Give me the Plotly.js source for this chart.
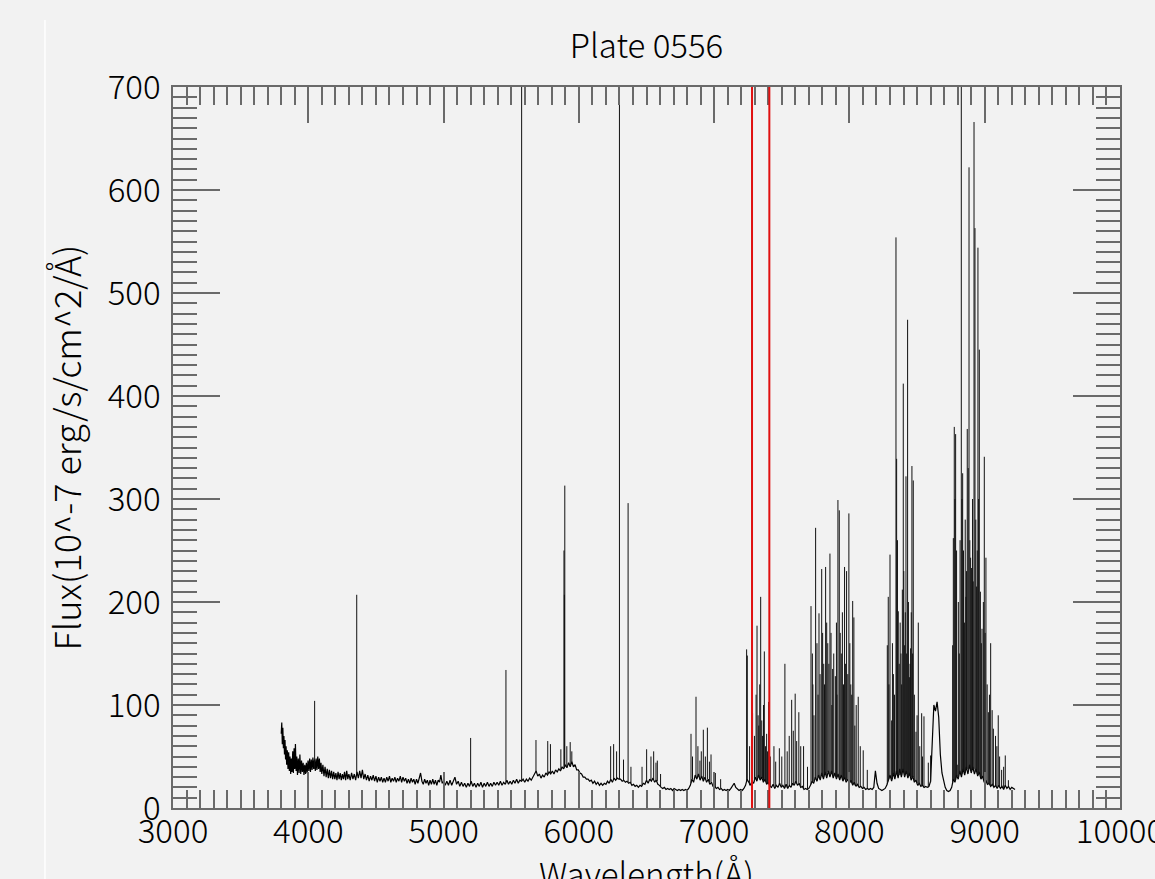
<!DOCTYPE html>
<html>
<head>
<meta charset="utf-8">
<script src="https://cdn.plot.ly/plotly-3.0.1.min.js"></script>
<style>html,body{margin:0;padding:0;background:#f2f2f2;}#chart{width:1155px;height:879px;}</style>
</head>
<body>
<div id="chart"></div>
<script>
// ---- Continuum of the spectrum (wavelength Å, flux 10^-7 erg/s/cm^2/Å) ----
const contWaveA = [3800,3804,3808,3812,3816,3820,3824,3828,3832,3836,
3840,3845,3850,3855,3860,3865,3870,3875,3880,3885,
3890,3895,3900,3905,3910,3915,3920,3926,3932,3938,
3944,3950,3956,3962,3968,3974,3980,3986,3992,3998,
4004,4010,4016,4022,4028,4034,4040,4046,4052,4058,
4064,4070,4076,4082,4088,4094,4100,4108,4116,4124,
4132,4140,4148,4156,4164,4172,4180,4188,4196,4204,
4212,4220,4228,4236,4244,4252,4260,4268,4276,4284,
4292,4300];
const contFluxA = [72,83,62,78,58,70,52,66,47,60,
42,56,38,54,36,50,33,48,35,55,
34,58,38,62,36,50,32,48,34,52,
33,46,35,44,32,42,33,44,34,46,
36,48,35,47,37,49,38,47,36,48,
37,50,38,48,35,44,33,42,31,40,
30,38,29,37,29,36,28,35,28,34,
27,35,28,34,27,33,28,35,27,36,
28,33];

const contWaveB = [4310,4320,4330,4340,4350,4360,4370,4380,4390,4400,
4410,4420,4430,4440,4450,4460,4470,4480,4490,4500,
4510,4520,4530,4540,4550,4560,4570,4580,4590,4600,
4610,4620,4630,4640,4650,4660,4670,4680,4690,4700,
4710,4720,4730,4740,4750,4760,4770,4780,4790,4800,
4810,4820,4830,4840,4850,4860,4870,4880,4890,4900,
4910,4920,4930,4940,4950,4960,4970,4980,4990,5000];
const contFluxB = [27,34,28,33,27,35,29,36,29,37,
28,33,27,32,26,31,27,32,26,31,
25,30,26,30,25,29,25,30,26,31,
25,29,26,30,25,29,26,31,25,30,
26,29,24,28,24,29,25,28,23,28,
24,29,34,26,23,28,24,27,22,27,
23,28,23,27,22,27,25,32,24,26];

const contWaveC = [5012,5024,5036,5048,5060,5072,5084,5096,5108,5120,
5132,5144,5156,5168,5180,5192,5204,5216,5228,5240,
5252,5264,5276,5288,5300,5312,5324,5336,5348,5360,
5372,5384,5396,5408,5420,5432,5444,5456,5468,5480,
5492,5504,5516,5528,5540,5552,5564,5576,5588,5600,
5612,5624,5636,5648,5660,5672,5684,5696,5708,5720,
5732,5744,5756,5768,5780,5792,5804,5816,5828,5840,
5852,5864,5876,5888,5900,5912,5924,5936,5948,5960,
5972,5984,5996];
const contFluxC = [22,26,22,27,22,26,30,23,26,21,
25,21,24,20,24,21,26,21,24,20,
24,21,25,20,24,21,25,21,24,21,
25,22,25,22,26,22,25,23,27,23,
26,23,27,24,28,24,27,26,28,25,
28,26,29,27,30,33,36,31,33,29,
32,30,34,32,35,33,36,33,37,35,
38,36,40,38,42,39,44,40,45,40,
42,37,37];

const contWaveD = [6008,6020,6032,6044,6056,6068,6080,6092,6104,6116,
6128,6140,6152,6164,6176,6188,6200,6212,6224,6236,
6248,6260,6272,6284,6296,6308,6320,6332,6344,6356,
6368,6380,6392,6404,6416,6428,6440,6452,6464,6476,
6488,6500,6512,6524,6536,6548,6560,6572,6584,6596,
6608,6620,6632,6644,6656,6668,6680,6692,6704,6716,
6728,6740,6752,6764,6776,6788,6800,6812,6824,6836,
6848,6860,6872,6884,6896,6908,6920,6932,6944,6956,
6968,6980,6992];
const contFluxD = [34,33,30,30,28,28,26,27,24,26,
23,25,22,24,22,24,23,26,24,28,
25,29,27,29,28,28,26,27,25,26,
24,25,22,23,21,22,20,22,21,24,
23,27,24,28,26,29,25,27,23,22,
20,19,20,18,19,18,19,17,19,18,
17,18,17,18,17,18,17,19,22,28,
25,32,28,33,27,31,26,30,25,28,
23,25,21];

const contWaveE = [7004,7016,7028,7040,7052,7064,7076,7088,7100,7112,
7124,7136,7148,7160,7172,7184,7196,7208,7220,7232,
7244,7256,7268,7280,7292,7304,7316,7328,7340,7352,
7364,7376,7388,7400,7412,7424,7436,7448,7460,7472,
7484,7496,7508,7520,7532,7544,7556,7568,7580,7592,
7604,7616,7628,7640,7652,7664,7676,7688,7700,7712,
7724,7736,7748,7760,7772,7784,7796,7808,7820,7832,
7844,7856,7868,7880,7892,7904,7916,7928,7940,7952,
7964,7976,7988,8000,8012,8024,8036,8048,8060,8072,
8084,8096,8108,8120,8132,8144,8156,8168,8180,8192,
8204];
const contFluxE = [21,19,20,18,19,17,18,17,18,17,
19,22,24,20,18,17,18,17,19,22,
28,24,22,26,24,30,26,32,27,30,
25,28,23,25,21,20,23,19,22,20,
24,20,22,19,23,19,22,20,24,22,
26,22,24,20,21,18,19,18,19,22,
26,24,30,26,32,27,34,28,35,29,
36,30,36,29,34,28,33,27,32,26,
30,25,28,24,27,22,25,21,23,20,
21,19,20,18,19,18,19,18,20,36,
24];

const contWaveF = [8216,8228,8240,8252,8264,8276,8288,8300,8312,8324,
8336,8348,8360,8372,8384,8396,8408,8420,8432,8444,
8456,8468,8480,8492,8504,8516,8528,8540,8552,8564,
8576,8588,8600,8612,8624,8636,8648,8660,8672,8684,
8696,8708,8720,8732,8744,8756,8768,8780,8792,8804,
8816,8828,8840,8852,8864,8876,8888,8900,8912,8924,
8936,8948,8960,8972,8984,8996,9008,9020,9032,9044,
9056,9068,9080,9092,9104,9116,9128,9140,9152,9164,
9176,9188,9200,9212,9224];
const contFluxF = [19,18,17,18,19,22,28,32,26,34,
28,36,29,38,30,38,30,36,29,34,
27,31,25,27,22,24,21,22,20,21,
20,21,26,60,100,94,103,88,52,34,
25,20,17,16,17,20,28,25,32,28,
36,30,38,32,40,33,42,34,40,33,
38,31,35,28,31,25,27,23,24,21,
23,20,22,19,22,19,21,18,22,19,
21,18,20,19,18];

// ---- Strong emission lines: wavelength, flux at the line's foot, peak flux ----
const lineWave = [4047,4358,5200,5461,5577,5683,5770,5790,5867,5890,
5893,5896,5911,5936,5948,6235,6257,6279,6300,6330,
6364,6385,6467,6501,6533,6553,6570,6580,6604,6829,
6866,6895,6920,6950,6977,7009,7048,7240,7245,7284,
7317,7330,7344,7357,7371,7388,7403,7442,7482,7523,
7573,7599,7626,7661,7716,7726,7750,7775,7795,7810,
7824,7840,7856,7876,7896,7915,7925,7940,7964,7979,
7996,8010,8024,8033,8050,8065,8102,8132,8280,8287,
8300,8312,8325,8344,8349,8361,8381,8391,8398,8408,
8418,8430,8443,8452,8462,8472,8492,8509,8534,8551,
8583,8600,8763,8768,8775,8785,8797,8812,8827,8837,
8850,8861,8871,8884,8896,8903,8921,8928,8940,8950,
8960,8980,8997,9009,9027,9044,9064,9100,9125,9152,
9175];
const lineBase = [38,33,24,25,26,34,33,34,37,39,
40,40,40,41,44,26,28,28,28,26,
25,24,22,26,27,28,26,26,21,24,
30,28,28,28,25,20,19,26,26,26,
27,30,28,29,27,24,24,21,23,20,
22,24,24,19,23,25,28,30,32,30,
33,35,32,31,31,31,29,31,29,27,
25,25,23,24,22,21,19,19,23,26,
31,27,32,32,34,32,32,36,37,31,
34,32,33,30,29,30,26,22,22,20,
20,25,24,27,27,27,31,34,32,36,
35,37,38,38,36,35,38,36,36,32,
34,29,27,26,23,21,21,21,20,21,
21];
const linePeak = [104,207,68,134,1000,66,65,62,57,250,
207,313,60,64,55,60,62,55,688,47,
296,40,40,57,50,55,44,46,33,72,
108,46,76,78,52,34,28,154,148,92,
177,80,205,70,152,72,103,60,58,140,
105,111,93,60,196,150,272,189,232,140,
234,160,247,135,128,299,289,150,234,230,
286,120,201,185,100,108,56,37,158,205,
246,85,130,554,339,191,150,212,412,158,
322,474,127,155,332,318,74,180,92,89,
44,51,158,262,370,363,42,150,1000,325,
180,205,368,622,243,233,666,563,215,544,
445,174,341,243,93,160,77,90,37,51,
27];

// ---- Weaker blended lines in the dense OH-band clusters ----
const blendWave = [6840,6880,6905,6935,6965,7262,7298,7310,7325,7337,
7352,7365,7380,7395,7415,7455,7500,7540,7555,7585,
7610,7640,7690,7730,7738,7760,7768,7783,7802,7816,
7832,7848,7864,7870,7884,7904,7908,7932,7948,7956,
7972,7988,8003,8017,8040,8080,8292,8318,8333,8355,
8368,8375,8386,8402,8413,8423,8436,8448,8457,8467,
8480,8500,8520,8540,8780,8792,8805,8818,8832,8843,
8856,8866,8878,8890,8910,8915,8934,8945,8955,8968,
8975,8990,9003,9018,9035,9055,9080,9090,9110,9140];
const blendBase = [28,30,30,28,25,22,26,28,30,28,
30,26,26,24,21,21,21,20,22,23,
24,20,18,25,26,26,30,28,30,33,
30,33,34,33,31,29,30,30,27,28,
26,27,25,24,22,21,28,28,30,33,
32,35,32,35,33,34,30,32,30,29,
26,24,23,22,26,30,29,34,33,36,
34,38,35,40,38,37,36,33,33,30,
29,28,26,24,23,22,21,20,20,19];
const blendPeak = [50,60,55,50,45,60,70,110,90,120,
85,100,60,55,50,45,50,55,70,75,
65,60,40,120,90,160,110,130,170,120,
180,140,170,100,150,180,110,170,190,120,
140,130,160,110,80,60,120,160,110,260,
140,180,120,230,190,150,200,140,190,150,
110,90,60,50,300,250,200,260,300,250,
280,230,330,260,300,220,280,250,300,210,
160,200,170,120,110,95,70,60,50,40];

// Red marker lines
const markWave = [7280, 7408];

// Axis ticks and titles
const xTickVals = [3000,4000,5000,6000,7000,8000,9000,10000];
const xTickText = ['3000','4000','5000','6000','7000','8000','9000','10000'];
const yTickVals = [0,100,200,300,400,500,600,700];
const yTickText = ['0','100','200','300','400','500','600','700'];
const chartTitle = 'Plate 0556';
const xTitle = 'Wavelength(Å)';
const yTitle = 'Flux(10^-7 erg/s/cm^2/Å)';

const contWave = [].concat(contWaveA, contWaveB, contWaveC, contWaveD, contWaveE, contWaveF);
const contFlux = [].concat(contFluxA, contFluxB, contFluxC, contFluxD, contFluxE, contFluxF);

const spikeX = [], spikeY = [];
function addSpikes(ws, bs, ps) {
  ws.forEach((w, i) => { spikeX.push(w, w, null); spikeY.push(bs[i], ps[i], null); });
}
addSpikes(blendWave, blendBase, blendPeak);
addSpikes(lineWave, lineBase, linePeak);

const FONT = '"Noto Sans CJK KR", "Noto Sans", sans-serif';
const AX = '#6a6a6a';
const tf = {family: FONT, size: 33, color: '#000', weight: 300};
const ytf = {family: FONT, size: 36, color: '#000', weight: 300};

const traces = [
  {x: contWave, y: contFlux, type: 'scatter', mode: 'lines', line: {color: '#000', width: 1.2}, hoverinfo: 'x+y', showlegend: false},
  {x: spikeX, y: spikeY, type: 'scatter', mode: 'lines', line: {color: '#111', width: 1}, hoverinfo: 'x+y', showlegend: false, connectgaps: false}
];

const shapes = markWave.map(w => ({type: 'line', xref: 'x', yref: 'paper', x0: w, x1: w, y0: 0, y1: 1, line: {color: '#e01010', width: 2}, layer: 'above'}));
shapes.push({type: 'line', xref: 'paper', yref: 'paper', x0: -0.1352, x1: -0.1352, y0: 1.093, y1: -0.12, line: {color: '#ffffff', width: 1.5}, layer: 'below'});

const layout = {
  width: 1155, height: 879,
  paper_bgcolor: '#f2f2f2', plot_bgcolor: '#f2f2f2',
  margin: {l: 173, r: 35, t: 87, b: 71},
  showlegend: false,
  font: tf,
  title: {text: chartTitle, font: tf, x: 0.5598, xanchor: 'center', xref: 'container', y: 0.947, yref: 'container', yanchor: 'middle'},
  xaxis: {
    range: [3000, 10000], tickmode: 'array', tickvals: xTickVals, ticktext: xTickText,
    ticks: 'inside', ticklen: 36, tickwidth: 1.5, tickcolor: AX,
    showline: true, linecolor: AX, linewidth: 1.5, mirror: 'ticks',
    showgrid: false, zeroline: false,
    minor: {dtick: 100, tick0: 3000, ticks: 'inside', ticklen: 18, tickwidth: 1.5, tickcolor: AX, showgrid: false},
    tickfont: tf, ticklabeloverflow: 'allow', ticklabelstandoff: -6,
    automargin: false
  },
  yaxis: {
    range: [0, 700], tickmode: 'array', tickvals: yTickVals, ticktext: yTickText,
    ticks: 'inside', ticklen: 47, tickwidth: 1.5, tickcolor: AX,
    showline: true, linecolor: AX, linewidth: 1.5, mirror: 'ticks',
    showgrid: false, zeroline: false,
    minor: {dtick: 10, tick0: 0, ticks: 'inside', ticklen: 24, tickwidth: 1.5, tickcolor: AX, showgrid: false},
    tickfont: tf, ticklabelstandoff: 4,
    title: {text: yTitle, font: ytf, standoff: 15},
    automargin: false
  },
  annotations: [
    {text: xTitle, xref: 'paper', yref: 'paper', x: 0.5, y: -0.0895, xanchor: 'center', yanchor: 'middle', showarrow: false, font: tf}
  ],
  shapes: shapes
};

Plotly.newPlot('chart', traces, layout, {displayModeBar: false});
</script>
</body>
</html>
